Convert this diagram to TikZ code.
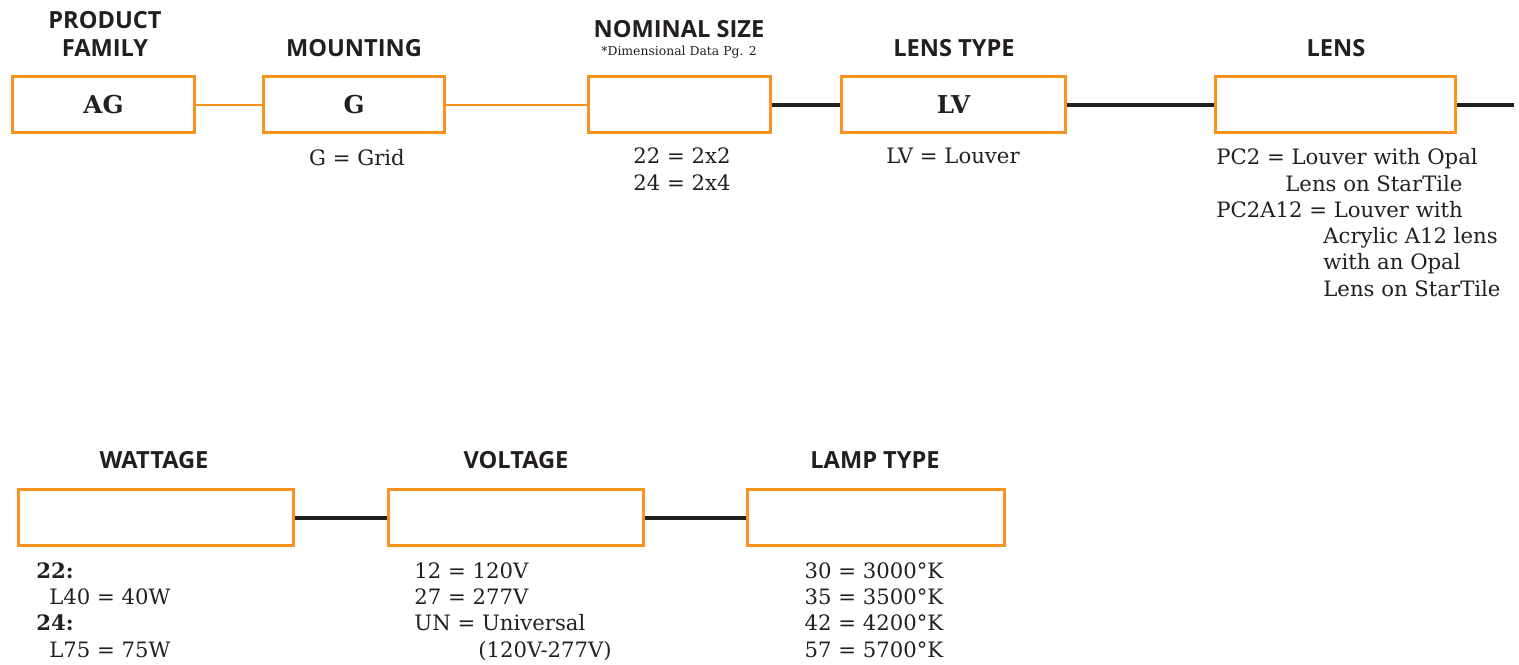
\documentclass[tikz,border=0pt]{standalone}
\usepackage{fontspec}
\setmainfont{DejaVu Serif}
\newfontfamily\hdfont{Open Sans}
\definecolor{ogcol}{HTML}{F7931E}
\definecolor{txtcol}{HTML}{231F20}
\begin{document}
\begin{tikzpicture}[x=0.5pt,y=-0.5pt,
  boxstyle/.style={draw=ogcol, line width=1.5pt, inner sep=0pt, minimum height=28pt, text=txtcol, font=\fontsize{12.3}{15}\selectfont\bfseries},
  hdr/.style={font=\hdfont\bfseries\fontsize{11.8}{14}\selectfont, text=txtcol, align=center, inner sep=0pt},
  note/.style={font=\fontsize{6.2}{8}\selectfont, text=txtcol, inner sep=0pt},
  desc/.style={font=\fontsize{10.6}{13}\selectfont, text=txtcol, anchor=base west, inner sep=0pt},
  descc/.style={font=\fontsize{10.6}{13}\selectfont, text=txtcol, anchor=base, inner sep=0pt},
  thinlink/.style={draw=ogcol, line width=1pt},
  thicklink/.style={draw=txtcol, line width=2pt}]
\useasboundingbox (0,0) rectangle (1519,664);
% top row boxes
\node[boxstyle, minimum width=91pt] (ag) at (103.5,104.5) {AG};
\node[boxstyle, minimum width=90.5pt] (mt) at (354,104.5) {G};
\node[boxstyle, minimum width=91pt] (ns) at (679.5,104.5) {};
\node[boxstyle, minimum width=112pt] (lt) at (953.5,104.5) {LV};
\node[boxstyle, minimum width=120pt] (ln) at (1335.5,104.5) {};
\coordinate (endr) at (1514,104.5);
% bottom row boxes
\node[boxstyle, minimum width=137.5pt] (wt) at (156,517.5) {};
\node[boxstyle, minimum width=127.5pt] (vt) at (516,517.5) {};
\node[boxstyle, minimum width=128.5pt] (lp) at (876,517.5) {};
% connectors
\draw[thinlink] (ag.east) -- (mt.west);
\draw[thinlink] (mt.east) -- (ns.west);
\draw[thicklink] (ns.east) -- (lt.west);
\draw[thicklink] (lt.east) -- (ln.west);
\draw[thicklink] (ln.east) -- (endr);
\draw[thicklink] (wt.east) -- (vt.west);
\draw[thicklink] (vt.east) -- (lp.west);
% headers
\node[hdr] (h1) at (105,34) {PRODUCT\\FAMILY};
\node[hdr] (h2) at (354,48) {MOUNTING};
\node[hdr] (h3) at (679,29) {NOMINAL SIZE};
\node[note] (h3n) at (679,52) {*Dimensional Data Pg. 2};
\node[hdr] (h4) at (954,48) {LENS TYPE};
\node[hdr] (h5) at (1336,48) {LENS};
\node[hdr] (h6) at (154,460) {WATTAGE};
\node[hdr] (h7) at (516,460) {VOLTAGE};
\node[hdr] (h8) at (875,460) {LAMP TYPE};
% descriptions top
\node[descc] (d1) at (357,165) {G = Grid};
\node[descc] (d2a) at (682,163) {22 = 2x2};
\node[descc] (d2b) at (682,190) {24 = 2x4};
\node[descc] (d3) at (953,163) {LV = Louver};
\node[desc] (d4a) at (1216,164) {PC2 = Louver with Opal};
\node[desc] (d4b) at (1285,191) {Lens on StarTile};
\node[desc] (d4c) at (1216,217) {PC2A12 = Louver with};
\node[desc] (d4d) at (1323,243) {Acrylic A12 lens};
\node[desc] (d4e) at (1323,269) {with an Opal};
\node[desc] (d4f) at (1323,296) {Lens on StarTile};
% descriptions bottom
\node[desc, font=\fontsize{10.6}{13}\selectfont\bfseries] (w1) at (36,578) {22:};
\node[desc] (w2) at (49,604) {L40 = 40W};
\node[desc, font=\fontsize{10.6}{13}\selectfont\bfseries] (w3) at (36,630) {24:};
\node[desc] (w4) at (49,657) {L75 = 75W};
\node[desc] (v1) at (414,578) {12 = 120V};
\node[desc] (v2) at (414,604) {27 = 277V};
\node[desc] (v3) at (414,630) {UN = Universal};
\node[desc] (v4) at (478,657) {(120V-277V)};
\node[descc] (l1) at (874,578) {30 = 3000°K};
\node[descc] (l2) at (874,604) {35 = 3500°K};
\node[descc] (l3) at (874,630) {42 = 4200°K};
\node[descc] (l4) at (874,657) {57 = 5700°K};
\end{tikzpicture}
\end{document}
